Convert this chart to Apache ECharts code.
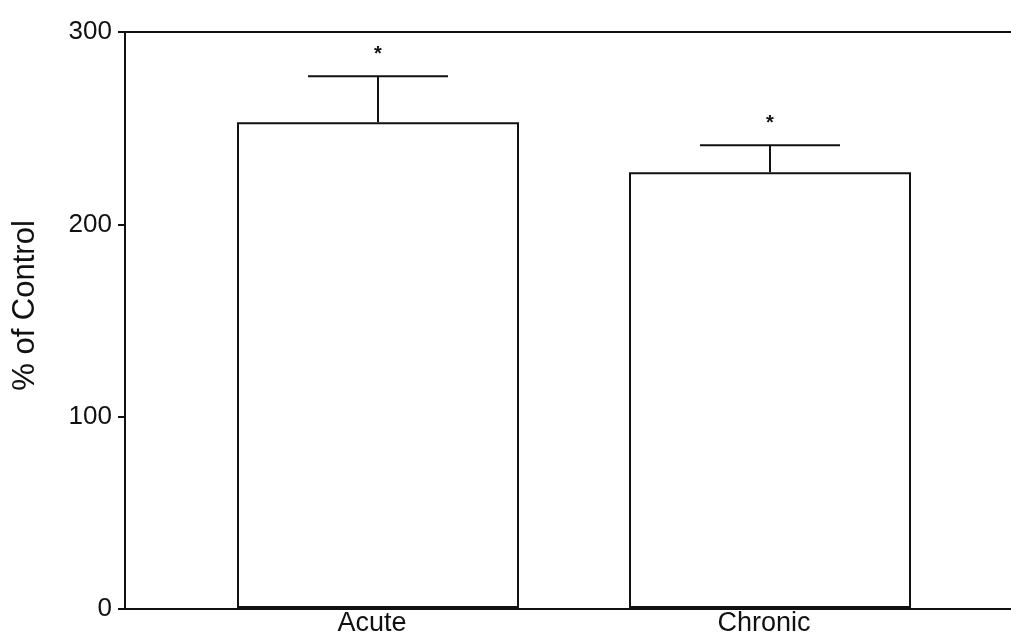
<!DOCTYPE html>
<html>
<head>
<meta charset="utf-8">
<script src="https://cdn.jsdelivr.net/npm/echarts@6/dist/echarts.min.js"></script>
<style>
  html, body { margin: 0; padding: 0; background: #fff; }
  #chart { width: 1011px; height: 637px; }
</style>
</head>
<body>
<div id="chart"></div>
<script>
// Group names, mean response (% of control) and SEM
const categories = ['Acute', 'Chronic'];
const means = [253, 227];
const errors = [24, 14];
const significance = ['*', '*'];
const yTicks = [0, 100, 200, 300];

const FONT = "'Liberation Sans', Arial, sans-serif";
const INK = '#111';

const chart = echarts.init(document.getElementById('chart'));

const errorData = categories.map((c, i) => [i, means[i], errors[i], significance[i]]);

chart.setOption({
  backgroundColor: '#fff',
  animation: false,
  grid: [
    // bars and error bars
    { left: 182, right: 45, top: 32, bottom: 28 },
    // frame: y axis, baseline and top rule
    { left: 125, right: 0, top: 32, bottom: 28 }
  ],
  xAxis: [
    {
      gridIndex: 0,
      type: 'category',
      data: categories,
      axisLine: { show: false },
      axisTick: { show: false },
      axisLabel: {
        color: INK, fontFamily: FONT, fontSize: 27, margin: 2,
        padding: [0, 12, 0, 0]
      }
    },
    {
      gridIndex: 1, type: 'value', position: 'bottom', min: 0, max: 1,
      axisLine: { show: true, lineStyle: { color: INK, width: 2 } },
      axisTick: { show: false }, axisLabel: { show: false }, splitLine: { show: false }
    },
    {
      gridIndex: 1, type: 'value', position: 'top', min: 0, max: 1,
      axisLine: { show: true, lineStyle: { color: INK, width: 2 } },
      axisTick: { show: false }, axisLabel: { show: false }, splitLine: { show: false }
    }
  ],
  yAxis: [
    {
      gridIndex: 0, type: 'value', min: 0, max: 300, interval: 100,
      show: false
    },
    {
      gridIndex: 1, type: 'value', min: yTicks[0], max: yTicks[yTicks.length - 1], interval: 100,
      name: '% of Control',
      nameLocation: 'middle',
      nameRotate: 90,
      nameGap: 84,
      nameTextStyle: { color: INK, fontFamily: FONT, fontSize: 31, padding: [0, 0, 0, 30] },
      axisLine: { show: true, lineStyle: { color: INK, width: 2 } },
      axisTick: { show: true, inside: false, length: 7, lineStyle: { color: INK, width: 2 } },
      axisLabel: {
        color: INK, fontFamily: FONT, fontSize: 26, margin: 13,
        padding: [0, 0, 9, 0]
      },
      splitLine: { show: false }
    }
  ],
  series: [
    {
      type: 'bar',
      xAxisIndex: 0, yAxisIndex: 0,
      data: means,
      barWidth: 282,
      itemStyle: { color: '#fff', borderColor: INK, borderWidth: 2 },
      z: 2
    },
    {
      type: 'custom',
      xAxisIndex: 0, yAxisIndex: 0,
      data: errorData,
      z: 3,
      renderItem: function (params, api) {
        const x = api.value(0);
        const mean = api.value(1);
        const err = api.value(2);
        const base = api.coord([x, mean]);
        const top = api.coord([x, mean + err]);
        const half = 70;
        const style = { stroke: INK, lineWidth: 2 };
        return {
          type: 'group',
          children: [
            { type: 'line', shape: { x1: top[0], y1: base[1], x2: top[0], y2: top[1] }, style: style },
            { type: 'line', shape: { x1: top[0] - half, y1: top[1], x2: top[0] + half, y2: top[1] }, style: style },
            {
              type: 'text',
              style: {
                text: errorData[params.dataIndex][3],
                x: top[0], y: top[1] - 12,
                align: 'center', verticalAlign: 'bottom',
                fill: INK, font: 'bold 20px ' + FONT
              }
            }
          ]
        };
      }
    }
  ]
});
</script>
</body>
</html>
